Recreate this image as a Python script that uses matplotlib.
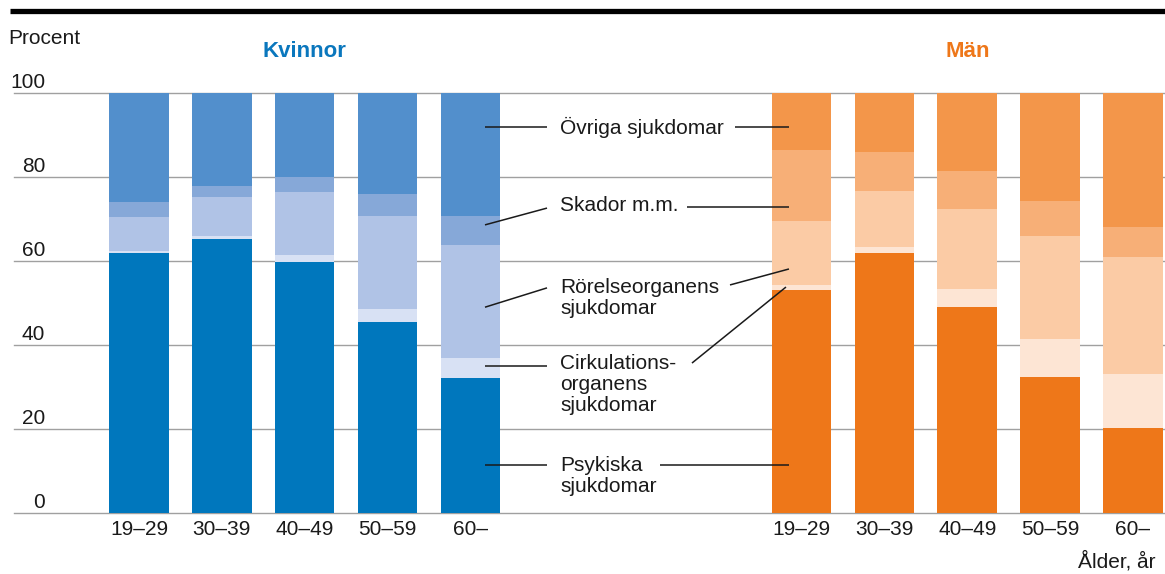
import matplotlib
matplotlib.use("Agg")
import matplotlib.pyplot as plt
from matplotlib import transforms
from matplotlib.lines import Line2D

plt.rcParams["font.family"] = ["Liberation Sans", "DejaVu Sans"]

# ---- data -------------------------------------------------------------
age_groups = ["19–29", "30–39", "40–49", "50–59", "60–"]
cause_labels = [
    "Psykiska\nsjukdomar",
    "Cirkulations-\norganens\nsjukdomar",
    "Rörelseorganens\nsjukdomar",
    "Skador m.m.",
    "Övriga sjukdomar",
]

women_psykiska = [61.9, 65.2, 59.8, 45.5, 32.1]
women_cirkulation = [0.5, 0.8, 1.6, 3.1, 4.8]
women_rorelse = [8.1, 9.2, 15.0, 22.1, 26.9]
women_skador = [3.5, 2.7, 3.6, 5.3, 6.9]
women_ovriga = [26.0, 22.1, 20.0, 24.0, 29.3]

men_psykiska = [53.1, 61.9, 49.0, 32.4, 20.2]
men_cirkulation = [1.2, 1.4, 4.3, 9.0, 12.9]
men_rorelse = [15.2, 13.4, 19.1, 24.6, 27.9]
men_skador = [16.9, 9.3, 9.0, 8.3, 7.1]
men_ovriga = [13.6, 14.0, 18.6, 25.7, 31.9]

y_ticks = [0, 20, 40, 60, 80, 100]

# ---- styling ----------------------------------------------------------
women_colors = ["#0077bd", "#d8e1f4", "#b0c3e6", "#86a8d8", "#528fcc"]
men_colors = ["#ee7719", "#fde5d4", "#fbcba5", "#f7af77", "#f3964a"]
title_women = "#0a77bd"
title_men = "#ee7719"
grid_color = "#a0a0a0"

W, H = 1165, 574
fig = plt.figure(figsize=(W / 100, H / 100), dpi=100)

# axes placement in pixels
ax_left, ax_right, ax_top, ax_bottom = 14, 1165, 93, 513
ax = fig.add_axes([ax_left / W, (H - ax_bottom) / H,
                   (ax_right - ax_left) / W, (ax_bottom - ax_top) / H])

bar_width = 0.72
women_x = [0, 1, 2, 3, 4]
men_x = [8, 9, 10, 11, 12]
px_per_unit = 82.83
first_center_px = 139
ax.set_xlim((ax_left - first_center_px) / px_per_unit,
            (ax_right - first_center_px) / px_per_unit)
ax.set_ylim(0, 100)

for val in y_ticks:
    ax.axhline(val, color=grid_color, lw=1.0, zorder=0, clip_on=False)


def stack(xs, series, colors):
    bottom = [0.0] * len(xs)
    for vals, col in zip(series, colors):
        ax.bar(xs, vals, bottom=bottom, width=bar_width, color=col,
               linewidth=0, zorder=2)
        bottom = [b + v for b, v in zip(bottom, vals)]


stack(women_x, [women_psykiska, women_cirkulation, women_rorelse,
                women_skador, women_ovriga], women_colors)
stack(men_x, [men_psykiska, men_cirkulation, men_rorelse,
              men_skador, men_ovriga], men_colors)

for s in ax.spines.values():
    s.set_visible(False)
ax.set_yticks([])
ax.set_xticks(women_x + men_x)
ax.set_xticklabels(age_groups + age_groups, fontsize=15, color="#1a1a1a")
ax.tick_params(axis="x", length=0, pad=5)

# y tick labels sit just above their grid line, right aligned
ylab_tr = transforms.blended_transform_factory(fig.transFigure, ax.transData)
ylab_tr = ylab_tr + transforms.ScaledTranslation(0, 5 / 100, fig.dpi_scale_trans)
for val in y_ticks:
    ax.text(45 / W, val, str(val), transform=ylab_tr, ha="right",
            va="baseline", fontsize=15, color="#1a1a1a")

fig.text(8 / W, 1 - 38 / H, "Procent", ha="left", va="center",
         fontsize=15, color="#1a1a1a")
fig.text(1155 / W, 1 - 561 / H, "Ålder, år", ha="right", va="center",
         fontsize=15, color="#1a1a1a")

ax.text(sum(women_x) / len(women_x), 109.8, "Kvinnor", ha="center",
        va="center", fontsize=16, fontweight="bold", color=title_women,
        clip_on=False)
ax.text(sum(men_x) / len(men_x), 109.8, "Män", ha="center",
        va="center", fontsize=16, fontweight="bold", color=title_men,
        clip_on=False)

# heavy rule across the top
fig.add_artist(Line2D([10 / W, 1.0], [1 - 10.5 / H, 1 - 10.5 / H],
                      transform=fig.transFigure, color="black", lw=3.8,
                      solid_capstyle="butt"))

# ---- callout labels between the two groups ----------------------------
text_x = 5.083
line_step = 21 / 4.2  # vertical spacing of wrapped lines, in data units
label_y = [11.4, 35.7, 53.8, 73.3, 91.9]
left_leaders = [
    ((4.177, 11.4), (4.926, 11.4)),
    ((4.177, 35.0), (4.926, 35.0)),
    ((4.177, 49.0), (4.926, 53.6)),
    ((4.177, 68.6), (4.926, 72.6)),
    ((4.177, 91.9), (4.926, 91.9)),
]
right_leaders = [
    ((6.290, 11.4), (7.847, 11.4)),
    ((6.676, 35.7), (7.811, 53.8)),
    ((7.135, 54.3), (7.847, 58.1)),
    ((6.616, 72.9), (7.847, 72.9)),
    ((7.196, 91.9), (7.847, 91.9)),
]

for label, y0, (la, lb), (ra, rb) in zip(cause_labels, label_y,
                                          left_leaders, right_leaders):
    for i, part in enumerate(label.split("\n")):
        ax.text(text_x, y0 - i * line_step, part, ha="left", va="center",
                fontsize=15, color="#1a1a1a", zorder=4)
    for a, b in ((la, lb), (ra, rb)):
        ax.plot([a[0], b[0]], [a[1], b[1]], color="#1a1a1a", lw=1.1,
                zorder=4, solid_capstyle="butt")

fig.savefig("out.png", dpi=100)
